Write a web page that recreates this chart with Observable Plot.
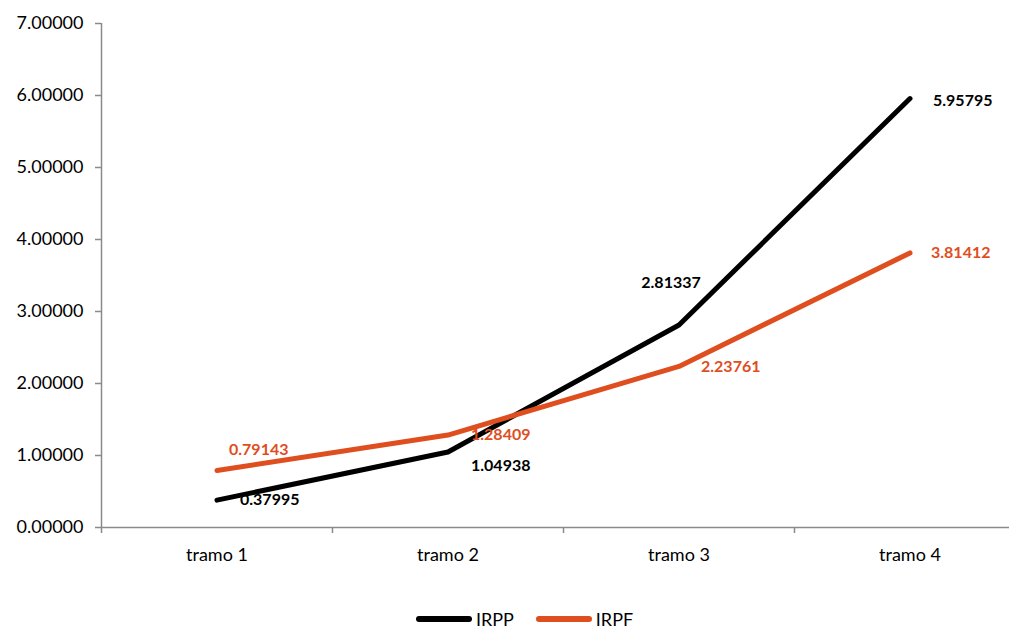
<!DOCTYPE html>
<html>
<head>
<meta charset="utf-8">
<script src="https://cdn.jsdelivr.net/npm/d3@7"></script>
<script src="https://cdn.jsdelivr.net/npm/@observablehq/plot@0.6"></script>
<style>
  body { margin: 0; background: #fff; font-family: Lato, "Open Sans", sans-serif; overflow: hidden; }
  #legend { display: flex; justify-content: center; align-items: center; gap: 22px; margin-top: 39px; margin-left: 40px; font-size: 18px; line-height: 20px; height: 20px; color: #000; }
  .item { display: flex; align-items: center; gap: 4px; }
  .sw { width: 56px; height: 6px; border-radius: 3px; display: inline-block; }
</style>
</head>
<body>
<div id="chart"></div>
<div id="legend"></div>
<script>
const categories = ["tramo 1", "tramo 2", "tramo 3", "tramo 4"];
const irpp = [0.37995, 1.04938, 2.81337, 5.95795];
const irpf = [0.79143, 1.28409, 2.23761, 3.81412];
const seriesNames = ["IRPP", "IRPF"];
const yTicks = [0, 1, 2, 3, 4, 5, 6, 7];

const colors = { IRPP: "#000000", IRPF: "#DF4E1E" };

const data = [];
categories.forEach((c, i) => {
  data.push({ series: "IRPP", idx: i + 1, cat: c, value: irpp[i] });
  data.push({ series: "IRPF", idx: i + 1, cat: c, value: irpf[i] });
});

// label placement (style only)
const labelStyle = {
  "IRPP-1": { anchor: "start", dx: 23, dy: 0 },
  "IRPP-2": { anchor: "start", dx: 23, dy: 14 },
  "IRPP-3": { anchor: "middle", dx: -8, dy: -42 },
  "IRPP-4": { anchor: "start", dx: 23, dy: 2 },
  "IRPF-1": { anchor: "start", dx: 12, dy: -21 },
  "IRPF-2": { anchor: "start", dx: 23, dy: 0 },
  "IRPF-3": { anchor: "start", dx: 22, dy: 0 },
  "IRPF-4": { anchor: "start", dx: 21, dy: 0 }
};

const labelMarks = data.map(d => {
  const s = labelStyle[d.series + "-" + d.idx];
  return Plot.text([d], {
    x: "idx", y: "value",
    text: v => d3.format(".5f")(v.value),
    fill: colors[d.series],
    textAnchor: s.anchor, dx: s.dx, dy: s.dy,
    fontSize: 16, fontWeight: "bold"
  });
});

const gray = "#8a8a8a";

const chart = Plot.plot({
  width: 1009,
  height: 570,
  marginLeft: 101,
  marginRight: 0,
  marginTop: 23,
  marginBottom: 43,
  style: { fontFamily: "Lato, 'Open Sans', sans-serif", background: "#fff", color: "#000" },
  x: { type: "linear", domain: [0.5, 4.5], range: [101, 1025] },
  y: { domain: [0, 7] },
  marks: [
    Plot.axisY({ ticks: yTicks, tickFormat: d3.format(".5f"), tickSize: 6, tickPadding: 12, fontSize: 18, stroke: gray, strokeWidth: 1.5, label: null }),
    Plot.axisX({ ticks: [0.5, 1.5, 2.5, 3.5], tickSize: 6, tickFormat: () => "", stroke: gray, strokeWidth: 1.5, label: null }),
    Plot.axisX({ ticks: [1, 2, 3, 4], tickSize: 0, tickPadding: 21, tickFormat: i => categories[i - 1], fontSize: 18, label: null }),
    Plot.ruleX([0.5], { y1: 0, y2: 7, stroke: gray, strokeWidth: 1.5 }),
    Plot.ruleY([0], { stroke: gray, strokeWidth: 1.5 }),
    Plot.line(data, { x: "idx", y: "value", z: "series", stroke: d => colors[d.series], strokeWidth: 5, strokeLinecap: "round", strokeLinejoin: "round" }),
    ...labelMarks
  ]
});
document.getElementById("chart").appendChild(chart);

const legend = document.getElementById("legend");
seriesNames.forEach(n => {
  const it = document.createElement("div");
  it.className = "item";
  const sw = document.createElement("span");
  sw.className = "sw";
  sw.style.background = colors[n];
  const t = document.createElement("span");
  t.textContent = n;
  it.appendChild(sw); it.appendChild(t);
  legend.appendChild(it);
});
</script>
</body>
</html>
